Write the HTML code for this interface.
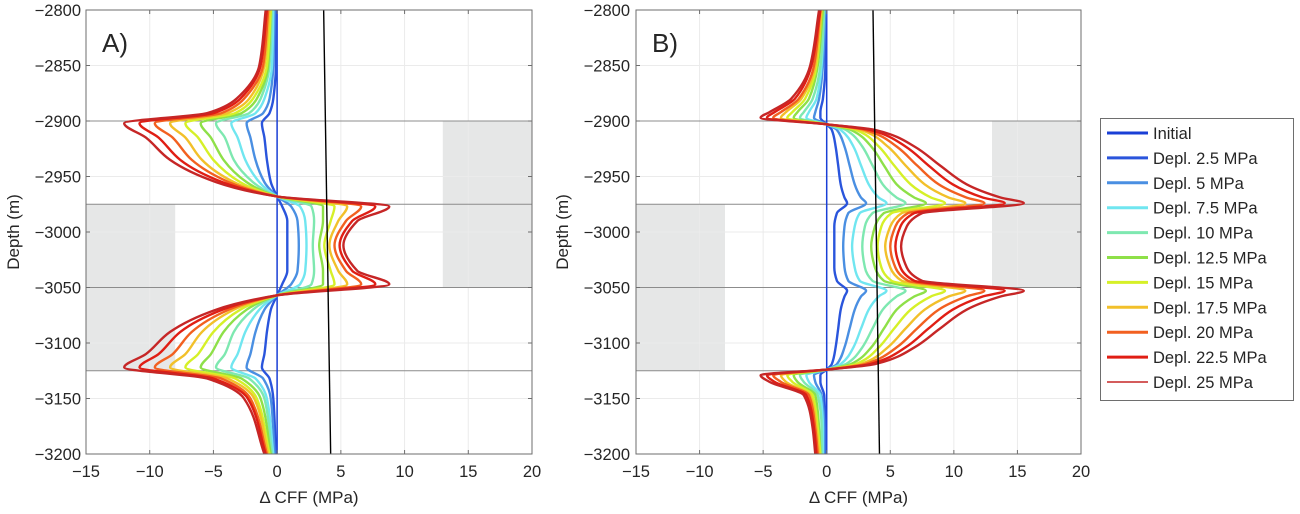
<!DOCTYPE html>
<html><head><meta charset="utf-8">
<style>
html,body{margin:0;padding:0;background:#fff;}
body{width:1300px;height:514px;overflow:hidden;position:relative;font-family:"Liberation Sans",sans-serif;}
svg{position:absolute;left:0;top:0;}
text{font-family:"Liberation Sans",sans-serif;fill:#262626;}
</style></head>
<body>
<svg id="chart" width="1300" height="514" viewBox="0 0 1300 514"></svg>
<script>
// ---------- data ----------
const seriesLabels = ["Initial","Depl. 2.5 MPa","Depl. 5 MPa","Depl. 7.5 MPa","Depl. 10 MPa","Depl. 12.5 MPa","Depl. 15 MPa","Depl. 17.5 MPa","Depl. 20 MPa","Depl. 22.5 MPa","Depl. 25 MPa"];
const seriesColors = ["#1a3fd6","#2a55dc","#4a8fe2","#70e6f0","#7ee8b0","#8ee048","#d6f028","#f2c02a","#f26020","#e01e14","#c62626"];
const xTicks = [-15,-10,-5,0,5,10,15,20];
const yTicks = [-2800,-2850,-2900,-2950,-3000,-3050,-3100,-3150,-3200];
const layerBounds = [-2900,-2975,-3050,-3125];
const shadeA = [[-15,-8,-2975,-3125],[13,20,-2900,-3050]];
const shadeB = [[-15,-8,-2975,-3125],[13,20,-2900,-3050]];
const frictionLineA = [[3.65,-2800],[4.2,-3200]];
const frictionLineB = [[3.64,-2800],[4.15,-3200]];

const depthA = [-2800,-2850,-2880,-2893,-2902,-2915,-2935,-2955,-2968,-2977,-2990,-3012,-3035,-3047,-3057,-3070,-3090,-3110,-3122,-3132,-3150,-3200];
const a0  = [0,0,0,0,0,0,0,0,0,0,0,0,0,0,0,0,0,0,0,0,0,0];
const a1  = [-0.1,-0.1,-0.3,-0.6,-1.2,-1.0,-0.8,-0.5,0,0.4,0.8,0.8,0.8,0.4,0,-0.5,-0.8,-1.0,-1.2,-0.6,-0.3,-0.1];
const a2  = [-0.2,-0.3,-0.6,-1.1,-2.4,-2.1,-1.7,-1.0,0,1.1,1.6,1.7,1.6,1.1,0,-1.0,-1.7,-2.1,-2.4,-1.1,-0.5,-0.2];
const a3  = [-0.3,-0.4,-1.0,-1.7,-3.6,-3.1,-2.5,-1.4,0,1.8,2.2,2.3,2.2,1.8,0,-1.4,-2.5,-3.1,-3.6,-1.7,-0.8,-0.3];
const a4  = [-0.4,-0.6,-1.3,-2.2,-4.8,-4.1,-3.4,-1.9,0,2.7,2.9,2.8,2.9,2.7,0,-1.9,-3.4,-4.1,-4.8,-2.2,-1.0,-0.4];
const a5  = [-0.5,-0.7,-1.6,-2.8,-6.0,-5.2,-4.2,-2.4,0,3.6,3.6,3.3,3.6,3.6,0,-2.4,-4.2,-5.2,-6.0,-2.8,-1.3,-0.5];
const a6  = [-0.5,-0.8,-1.9,-3.3,-7.2,-6.2,-5.0,-2.9,0,4.5,4.2,3.7,4.2,4.5,0,-2.9,-5.0,-6.2,-7.2,-3.3,-1.6,-0.6];
const a7  = [-0.6,-1.0,-2.2,-3.9,-8.4,-7.2,-5.9,-3.4,0,5.5,4.8,4.1,4.8,5.5,0,-3.4,-5.9,-7.2,-8.4,-3.9,-1.8,-0.7];
const a8  = [-0.7,-1.1,-2.6,-4.4,-9.6,-8.2,-6.7,-3.8,0,6.6,5.4,4.5,5.4,6.6,0,-3.8,-6.7,-8.2,-9.6,-4.4,-2.1,-0.8];
const a9  = [-0.8,-1.3,-2.9,-5.0,-10.8,-9.3,-7.6,-4.3,0,7.7,5.9,4.9,5.9,7.7,0,-4.3,-7.6,-9.3,-10.8,-5.0,-2.3,-0.9];
const a10 = [-0.9,-1.4,-3.2,-5.5,-12.0,-10.3,-8.4,-4.8,0,8.8,6.3,5.2,6.3,8.8,0,-4.8,-8.4,-10.3,-12.0,-5.5,-2.6,-1.0];

const depthB = [-2800,-2850,-2880,-2892,-2897,-2903,-2908,-2923,-2940,-2957,-2969,-2974,-2983,-2995,-3013,-3032,-3044,-3053,-3058,-3070,-3087,-3104,-3119,-3124,-3129,-3135,-3147,-3177,-3200];
const b0  = [0,0,0,0,0,0,0,0,0,0,0,0,0,0,0,0,0,0,0,0,0,0,0,0,0,0,0,0,0];
const b1  = [-0.1,-0.1,-0.3,-0.5,-0.5,0,0.4,0.7,0.9,1.1,1.4,1.6,0.8,0.6,0.6,0.6,0.8,1.6,1.4,1.1,0.9,0.7,0.4,0,-0.5,-0.5,-0.2,-0.1,-0.1];
const b2  = [-0.1,-0.3,-0.6,-0.9,-1.0,0,0.8,1.4,1.8,2.2,2.7,3.1,1.7,1.4,1.3,1.4,1.7,3.1,2.7,2.2,1.8,1.4,0.8,0,-1.0,-0.9,-0.4,-0.2,-0.2];
const b3  = [-0.2,-0.4,-0.8,-1.4,-1.6,0,1.1,2.1,2.7,3.3,4.1,4.7,2.6,2.2,2.0,2.2,2.6,4.7,4.1,3.3,2.7,2.1,1.1,0,-1.6,-1.4,-0.5,-0.3,-0.3];
const b4  = [-0.2,-0.5,-1.1,-1.8,-2.1,0,1.5,2.8,3.6,4.4,5.5,6.2,3.6,3.0,2.8,3.0,3.6,6.2,5.5,4.4,3.6,2.8,1.5,0,-2.1,-1.8,-0.7,-0.4,-0.4];
const b5  = [-0.3,-0.7,-1.4,-2.3,-2.6,0,1.9,3.5,4.5,5.5,6.9,7.8,4.5,3.8,3.5,3.8,4.5,7.8,6.9,5.5,4.5,3.5,1.9,0,-2.6,-2.3,-0.9,-0.6,-0.5];
const b6  = [-0.4,-0.8,-1.7,-2.7,-3.1,0,2.3,4.1,5.3,6.6,8.2,9.3,5.1,4.3,4.0,4.3,5.1,9.3,8.2,6.6,5.3,4.1,2.3,0,-3.1,-2.7,-1.1,-0.7,-0.5];
const b7  = [-0.4,-0.9,-2.0,-3.2,-3.6,0,2.7,4.8,6.2,7.7,9.6,10.9,5.9,5.0,4.6,5.0,5.9,10.9,9.6,7.7,6.2,4.8,2.7,0,-3.6,-3.2,-1.3,-0.8,-0.6];
const b8  = [-0.5,-1.0,-2.2,-3.6,-4.2,0,3.0,5.5,7.1,8.8,11.0,12.4,6.4,5.4,5.0,5.4,6.4,12.4,11.0,8.8,7.1,5.5,3.0,0,-4.2,-3.6,-1.4,-0.9,-0.7];
const b9  = [-0.5,-1.2,-2.5,-4.1,-4.7,0,3.4,6.2,8.0,9.9,12.3,14.0,6.9,5.8,5.4,5.8,6.9,14.0,12.3,9.9,8.0,6.2,3.4,0,-4.7,-4.1,-1.6,-1.0,-0.8];
const b10 = [-0.6,-1.3,-2.8,-4.5,-5.2,0,3.8,6.9,8.9,11.0,13.7,15.5,7.5,6.3,5.85,6.3,7.5,15.5,13.7,11.0,8.9,6.9,3.8,0,-5.2,-4.5,-1.8,-1.1,-0.9];

const seriesA = [a0,a1,a2,a3,a4,a5,a6,a7,a8,a9,a10];
const seriesB = [b0,b1,b2,b3,b4,b5,b6,b7,b8,b9,b10];

// ---------- drawing ----------
const NS = "http://www.w3.org/2000/svg";
const svg = document.getElementById("chart");
function mk(tag, attrs, parent){
  const e = document.createElementNS(NS, tag);
  for (const k in attrs) e.setAttribute(k, attrs[k]);
  (parent||svg).appendChild(e);
  return e;
}
const Y0 = 10, Y1 = 454;
function yScale(d){ return Y0 + (d - (-2800)) / (-3200 - (-2800)) * (Y1 - Y0); }

// monotone cubic (Fritsch-Carlson) path of x as a function of y
function smoothPath(px, py){
  const n = px.length;
  const h = [], s = [];
  for (let i = 0; i < n - 1; i++){ h[i] = py[i+1] - py[i]; s[i] = (px[i+1] - px[i]) / h[i]; }
  const m = [];
  m[0] = s[0]; m[n-1] = s[n-2];
  for (let i = 1; i < n - 1; i++){
    if (s[i-1] * s[i] <= 0) m[i] = 0;
    else { const w1 = 2*h[i] + h[i-1], w2 = h[i] + 2*h[i-1]; m[i] = (w1 + w2) / (w1 / s[i-1] + w2 / s[i]); }
  }
  let d = "M" + px[0].toFixed(1) + "," + py[0].toFixed(1);
  for (let i = 0; i < n - 1; i++){
    const dy = h[i] / 3;
    d += " C" + (px[i] + m[i]*dy).toFixed(1) + "," + (py[i] + dy).toFixed(1) + " " +
         (px[i+1] - m[i+1]*dy).toFixed(1) + "," + (py[i+1] - dy).toFixed(1) + " " +
         px[i+1].toFixed(1) + "," + py[i+1].toFixed(1);
  }
  return d;
}

function panel(id, left, right, series, depth, shades, fline, label, ylabX, yTickX){
  const xs = v => left + (v - (-15)) / 35 * (right - left);
  const g = mk("g", {});
  
  
  shades.forEach((s) => {
    const r = mk("rect", {x: xs(s[0]), y: yScale(s[2]), width: xs(s[1]) - xs(s[0]), height: yScale(s[3]) - yScale(s[2]), fill: "#e6e7e7"}, g);
    
    
  });
  xTicks.forEach(t => {
    const l = mk("line", {x1: xs(t), x2: xs(t), y1: Y0, y2: Y1, stroke: "#ebebeb", "stroke-width": 1}, g);
    
    
  });
  yTicks.forEach(t => {
    const l = mk("line", {x1: left, x2: right, y1: yScale(t), y2: yScale(t), stroke: "#ebebeb", "stroke-width": 1}, g);
    
    
  });
  layerBounds.forEach(b => {
    const l = mk("line", {x1: left, x2: right, y1: yScale(b), y2: yScale(b), stroke: "#8c8c8c", "stroke-width": 1}, g);
    
    
  });
  series.forEach((vals, k) => {
    const px = vals.map(v => xs(v));
    const py = depth.map(d => yScale(d));
    const p = mk("path", {d: smoothPath(px, py), fill: "none", stroke: seriesColors[k], "stroke-width": k === 0 ? 1.5 : 2.4, "stroke-linejoin": "round"}, g);
    
    
  });
  const fl = mk("line", {x1: xs(fline[0][0]), y1: yScale(fline[0][1]), x2: xs(fline[1][0]), y2: yScale(fline[1][1]), stroke: "#000", "stroke-width": 1.4}, g);
  
  
  const box = mk("rect", {x: left, y: Y0, width: right - left, height: Y1 - Y0, fill: "none", stroke: "#6e6e6e", "stroke-width": 1}, g);
  
  
  xTicks.forEach(t => {
    mk("line", {x1: xs(t), x2: xs(t), y1: Y1, y2: Y1 - 4, stroke: "#6e6e6e"}, g);
    mk("line", {x1: xs(t), x2: xs(t), y1: Y0, y2: Y0 + 4, stroke: "#6e6e6e"}, g);
    const tx = mk("text", {x: xs(t), y: 477, "text-anchor": "middle", "font-size": 16.5}, g);
    tx.textContent = t < 0 ? "\u2212" + Math.abs(t) : String(t);
    
    
  });
  yTicks.forEach(t => {
    mk("line", {x1: left, x2: left + 4, y1: yScale(t), y2: yScale(t), stroke: "#6e6e6e"}, g);
    mk("line", {x1: right, x2: right - 4, y1: yScale(t), y2: yScale(t), stroke: "#6e6e6e"}, g);
    const tx = mk("text", {x: yTickX, y: yScale(t) + 6, "text-anchor": "end", "font-size": 16.5}, g);
    tx.textContent = "\u2212" + Math.abs(t);
    
    
  });
  const xt = mk("text", {x: (left + right) / 2, y: 503, "text-anchor": "middle", "font-size": 17}, g);
  xt.textContent = "\u0394 CFF (MPa)";
  
  
  const yt = mk("text", {x: ylabX, y: (Y0 + Y1) / 2, "text-anchor": "middle", "font-size": 17, transform: "rotate(-90 " + ylabX + " " + (Y0 + Y1) / 2 + ")"}, g);
  yt.textContent = "Depth (m)";
  
  
  const pl = mk("text", {x: left + 16, y: 52, "font-size": 26, fill: "#111"}, g);
  pl.textContent = label;
  
  
}

panel("a", 86, 532, seriesA, depthA, shadeA, frictionLineA, "A)", 19, 81);
panel("b", 636, 1081, seriesB, depthB, shadeB, frictionLineB, "B)", 568, 630);

// legend
const lg = mk("g", {});


mk("rect", {x: 1100.5, y: 118.5, width: 193, height: 282, fill: "#fff", stroke: "#6e6e6e", "stroke-width": 1}, lg);
seriesLabels.forEach((s, k) => {
  const yy = 133 + k * 24.9;
  const e = mk("g", {}, lg);
  
  
  mk("line", {x1: 1107, x2: 1148, y1: yy, y2: yy, stroke: seriesColors[k], "stroke-width": k === 10 ? 1.6 : 3}, e);
  const t = mk("text", {x: 1153, y: yy + 6, "font-size": 16.5, fill: "#111"}, e);
  t.textContent = s;
});
</script>
</body></html>
